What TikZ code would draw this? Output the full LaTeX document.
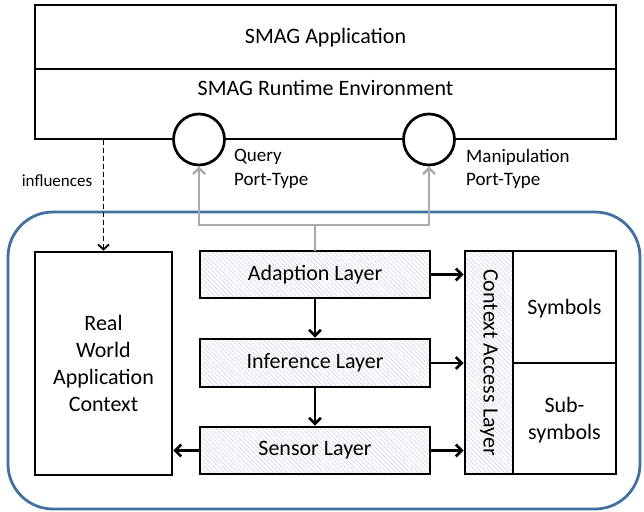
\documentclass[tikz,border=0pt]{standalone}
\usepackage{fontspec}
\setmainfont{Carlito}
\usetikzlibrary{arrows.meta,patterns.meta}
\definecolor{frameblue}{RGB}{65,113,160}
\definecolor{hatchc}{RGB}{195,208,228}
\definecolor{portgray}{RGB}{170,170,170}
\begin{document}
\begin{tikzpicture}[x=1pt,y=-1pt,
  box/.style={draw=black, line width=2.7pt, inner sep=0pt},
  hatched/.style={box, pattern={Lines[angle=-45,distance=3.2pt,line width=0.5pt]}, pattern color=hatchc},
  txt/.style={font=\fontsize{22}{27}\selectfont, align=center, inner sep=0pt},
  smalltxt/.style={font=\fontsize{19}{23.5}\selectfont, align=left, inner sep=0pt, anchor=west},
  tinytxt/.style={font=\fontsize{17}{20}\selectfont, inner sep=0pt},
  arr/.style={line width=2.6pt, -{Straight Barb[length=6pt,width=12pt,line width=2.6pt]}},
  grayarr/.style={draw=portgray, line width=2.4pt, -{Straight Barb[length=6pt,width=12pt,line width=2.4pt]}},
  grayline/.style={draw=portgray, line width=2.4pt},
  dasharr/.style={line width=1.7pt, dash pattern=on 5pt off 3pt, -{Straight Barb[length=5pt,width=11pt,line width=1.8pt]}},
  port/.style={circle, draw=black, fill=white, line width=2.7pt, minimum size=51pt, inner sep=0pt}
]
\useasboundingbox (0,0) rectangle (644,511);

% container
\node[draw=frameblue, line width=2.8pt, rounded corners=45pt, minimum width=632pt, minimum height=297pt, inner sep=0pt] (ctx) at (324,360.5) {};

% top boxes
\node[box, minimum width=581pt, minimum height=64pt] (app) at (325.5,37) {};
\node[txt] (apptxt) at (325.5,38) {SMAG Application};
\node[box, minimum width=581pt, minimum height=70pt] (rte) at (325.5,104) {};
\node[txt] (rtetxt) at (325.5,88) {SMAG Runtime Environment};

% ports
\node[port] (qport) at (199,139.5) {};
\node[port] (mport) at (429,139.5) {};
\node[smalltxt] (qlbl) at (234,169) {Query\\Port-Type};
\node[smalltxt] (mlbl) at (466,169) {Manipulation\\Port-Type};

% left context box
\node[box, minimum width=137pt, minimum height=223pt] (rwac) at (103.5,363.5) {};
\node[txt] (rwactxt) at (103.5,363.5) {Real\\World\\Application\\Context};

% layers
\node[hatched, minimum width=230pt, minimum height=47pt] (adapt) at (315,274.5) {};
\node[txt] (adapttxt) at (315,274.5) {Adaption Layer};
\node[hatched, minimum width=230pt, minimum height=48pt] (infer) at (315,363) {};
\node[txt] (infertxt) at (315,363) {Inference Layer};
\node[hatched, minimum width=230pt, minimum height=47pt] (sensor) at (315,450.5) {};
\node[txt] (sensortxt) at (315,450.5) {Sensor Layer};

% context access layer and symbols
\node[hatched, minimum width=48pt, minimum height=223pt] (cal) at (489,362.5) {};
\node[txt, rotate=-90] (caltxt) at (489,362.5) {Context Access Layer};
\node[box, minimum width=103pt, minimum height=112pt] (sym) at (564.5,307) {};
\node[txt] (symtxt) at (564.5,309) {Symbols};
\node[box, minimum width=103pt, minimum height=111pt] (subsym) at (564.5,418.5) {};
\node[txt] (subsymtxt) at (564.5,420) {Sub-\\symbols};

% influences
\coordinate (dstart) at (103.5,140);
\draw[dasharr] (dstart) -- (rwac.north);
\node[tinytxt] (infl) at (57,181) {influences};

% gray port connectors
\coordinate (gj) at (315,225);
\draw[grayline] (adapt.north) -- (gj);
\draw[grayarr] (gj) -| (qport.south);
\draw[grayarr] (gj) -| (mport.south);

% black arrows
\draw[arr] (adapt.south) -- (infer.north);
\draw[arr] (infer.south) -- (sensor.north);
\draw[arr] (adapt.east) -- (adapt.east -| cal.west);
\draw[arr] (infer.east) -- (infer.east -| cal.west);
\draw[arr] (sensor.east) -- (sensor.east -| cal.west);
\draw[arr] (sensor.west) -- (sensor.west -| rwac.east);
\end{tikzpicture}
\end{document}
